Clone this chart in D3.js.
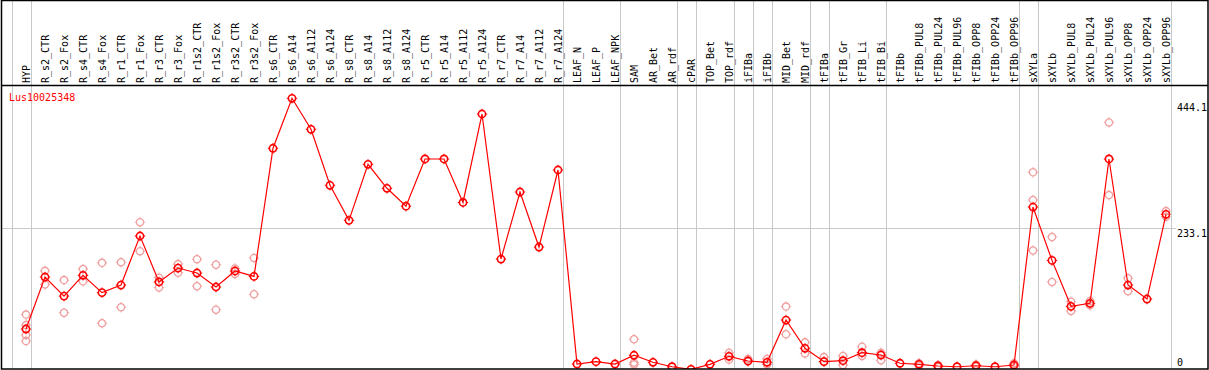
<!DOCTYPE html>
<html lang="en">
<head>
    <meta charset="UTF-8">
    <title>Lus10025348</title>
    <script src="https://cdn.jsdelivr.net/npm/d3@7" type="text/javascript"></script>
    <style>
        body { margin: 0; background: #fff; }
        text { font-family: "DejaVu Sans Mono", monospace; font-size: 10px; }
    </style>
</head>
<body>
<svg width="1209" height="370"></svg>
<script type="text/javascript">
    // data
    var geneName = 'Lus10025348';
    var categories = ['HYP', 'R_s2_CTR', 'R_s2_Fox', 'R_s4_CTR', 'R_s4_Fox', 'R_r1_CTR', 'R_r1_Fox', 'R_r3_CTR', 'R_r3_Fox',
        'R_r1s2_CTR', 'R_r1s2_Fox', 'R_r3s2_CTR', 'R_r3s2_Fox', 'R_s6_CTR', 'R_s6_A14', 'R_s6_A112', 'R_s6_A124',
        'R_s8_CTR', 'R_s8_A14', 'R_s8_A112', 'R_s8_A124', 'R_r5_CTR', 'R_r5_A14', 'R_r5_A112', 'R_r5_A124',
        'R_r7_CTR', 'R_r7_A14', 'R_r7_A112', 'R_r7_A124', 'LEAF_N', 'LEAF_P', 'LEAF_NPK', 'SAM', 'AR_Bet', 'AR_rdf',
        'cPAR', 'TOP_Bet', 'TOP_rdf', 'iFIBa', 'iFIBb', 'MID_Bet', 'MID_rdf', 'tFIBa', 'tFIB_Gr', 'tFIB_Li', 'tFIB_Bi',
        'tFIBb', 'tFIBb_PUL8', 'tFIBb_PUL24', 'tFIBb_PUL96', 'tFIBb_OPP8', 'tFIBb_OPP24', 'tFIBb_OPP96',
        'sXYLa', 'sXYLb', 'sXYLb_PUL8', 'sXYLb_PUL24', 'sXYLb_PUL96', 'sXYLb_OPP8', 'sXYLb_OPP24', 'sXYLb_OPP96'];
    var means = [69.6, 154, 123, 156.8, 128.6, 141, 220.6, 146, 168.6, 160.5, 137.8, 163.8, 155,
        363, 444.1, 393.8, 302.9, 246, 337, 298, 269, 345.6, 345.6, 275, 418.6, 183.2, 292, 202.7, 327.7,
        12.8, 16.6, 12.8, 27, 15.6, 8.4, 4.2, 12.3, 25.3, 17.7, 15.6, 84.2, 38.3, 16.6, 18.2, 31.2, 27.4,
        14, 12.3, 9.6, 8.4, 10, 8.4, 11.2, 267.6, 181, 106.4, 111.3, 345.6, 141, 118.3, 255.8];
    var replicates = [[93, 76, 60, 50], [164, 142], [149, 96], [167, 147], [177, 79], [178, 105], [243, 196],
        [153, 137], [175, 161], [183, 139], [174, 101], [168, 159], [185, 126],
        [], [], [], [], [], [], [], [], [], [], [], [], [], [], [], [],
        [], [], [], [53, 15, 12], [], [], [], [], [31, 20], [21, 17], [21, 12], [106, 61], [48, 30],
        [24, 17], [26, 11], [41, 26], [31, 19], [], [14, 10], [11, 8], [], [12, 9], [], [14, 9],
        [324, 279, 197], [219, 146], [114, 99], [115, 108], [405, 287], [152, 131], [], [261, 252]];
    // sizes of the column groups separated by grey lines
    var groupSizes = [1, 28, 3, 3, 1, 2, 1, 1, 2, 1, 3, 7, 1, 7];
    var axisTicks = [0, 233.1, 444.1];

    var svg = d3.select('svg');
    var W = 1209, H = 370;
    var headerBottom = 85.5, plotBottom = 369, plotRight = 1170.5;

    var x = d3.scalePoint().domain(categories).range([26, 1166]);
    var step = x.step();
    var y = d3.scaleLinear().domain([0, 444.1]).range([371.9, 98.3]);

    // grey horizontal line at the middle tick
    svg.append('line')
        .attr('x1', 1).attr('x2', 1176)
        .attr('y1', Math.round(y(233.1)) + 0.5).attr('y2', Math.round(y(233.1)) + 0.5)
        .attr('stroke', '#c8c8c8').attr('stroke-width', 1);

    // group separators
    var bounds = [-1], acc = -1;
    groupSizes.forEach(function (n) { acc += n; bounds.push(acc); });
    svg.selectAll('.sep').data(bounds).enter().append('line')
        .attr('class', 'sep')
        .attr('x1', function (i) { return Math.round(26 + step * i + step * 0.25) + 0.5; })
        .attr('x2', function (i) { return Math.round(26 + step * i + step * 0.25) + 0.5; })
        .attr('y1', 0).attr('y2', plotBottom)
        .attr('stroke', '#c8c8c8').attr('stroke-width', 1);

    // column labels
    svg.selectAll('.lab').data(categories).enter().append('text')
        .attr('class', 'lab')
        .attr('transform', function (d) { return 'translate(' + (x(d) + 3.5) + ',83) rotate(-90)'; })
        .attr('fill', '#000')
        .text(function (d) { return d; });

    // right axis labels
    svg.selectAll('.tick').data(axisTicks).enter().append('text')
        .attr('class', 'tick')
        .attr('x', 1177)
        .attr('y', function (v) { return Math.min(Math.max(y(v) + 8.4, 110.5), 365.5); })
        .attr('fill', '#000')
        .text(function (v) { return v === 0 ? '0' : v.toFixed(1); });

    // plot
    svg.append('clipPath').attr('id', 'clip')
        .append('rect').attr('x', 2).attr('y', headerBottom).attr('width', plotRight - 2).attr('height', plotBottom - headerBottom);
    var g = svg.append('g').attr('clip-path', 'url(#clip)');

    function marker(sel, color, sw) {
        sel.append('circle').attr('r', 3.6).attr('fill', 'none').attr('stroke', color).attr('stroke-width', sw);
        sel.append('path')
            .attr('d', 'M0,-5.2V-3.6M0,3.6V5.2M-5.2,0H-3.6M3.6,0H5.2')
            .attr('stroke', color).attr('stroke-width', 1);
    }

    var repPts = [];
    replicates.forEach(function (arr, i) {
        arr.forEach(function (v) { repPts.push({cat: categories[i], v: v}); });
    });
    g.selectAll('.rep').data(repPts).enter().append('g')
        .attr('class', 'rep')
        .attr('transform', function (d) { return 'translate(' + x(d.cat) + ',' + y(d.v) + ')'; })
        .call(marker, '#f0a0a0', 1.3);

    var line = d3.line()
        .x(function (d, i) { return x(categories[i]); })
        .y(function (d) { return y(d); });
    g.append('path').datum(means)
        .attr('d', line).attr('fill', 'none').attr('stroke', '#ff0000').attr('stroke-width', 1.2);

    g.selectAll('.mean').data(means).enter().append('g')
        .attr('class', 'mean')
        .attr('transform', function (d, i) { return 'translate(' + x(categories[i]) + ',' + y(d) + ')'; })
        .call(marker, '#ff0000', 1.6);

    svg.append('text').attr('x', 9).attr('y', 100.5).attr('fill', '#ff0000').text(geneName);

    // frame
    svg.append('rect').attr('x', 1.5).attr('y', 0.5).attr('width', 1206.5).attr('height', plotBottom - 0.5)
        .attr('fill', 'none').attr('stroke', '#000').attr('stroke-width', 1.5);
    svg.append('line').attr('x1', 1).attr('x2', 1208).attr('y1', headerBottom).attr('y2', headerBottom)
        .attr('stroke', '#000').attr('stroke-width', 1.5);
</script>
</body>
</html>
